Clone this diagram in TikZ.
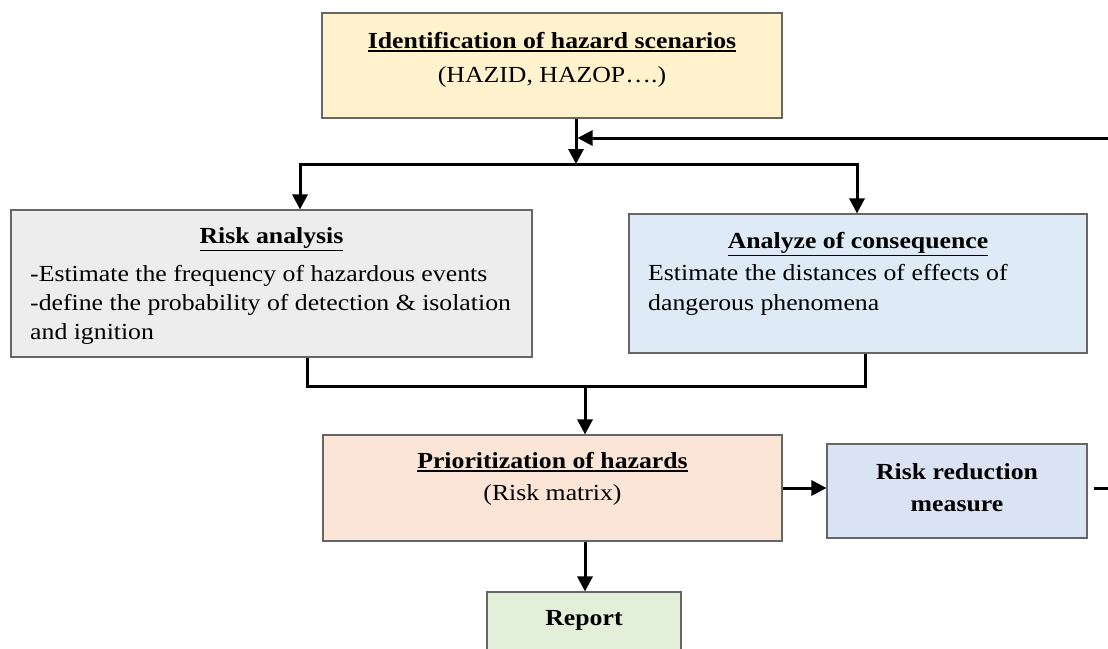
\documentclass[tikz,border=0pt]{standalone}
\usepackage{fontspec}
\setmainfont[FakeStretch=1.12]{Liberation Serif}
\usetikzlibrary{arrows.meta}
\definecolor{cTop}{HTML}{FFF2CC}
\definecolor{cLeft}{HTML}{EDEDED}
\definecolor{cRight}{HTML}{DEEBF7}
\definecolor{cPrio}{HTML}{FBE5D6}
\definecolor{cRR}{HTML}{DAE3F3}
\definecolor{cRep}{HTML}{E2F0D9}
\definecolor{boxgray}{HTML}{666666}
\newcommand{\myul}[1]{\leavevmode\vtop{\hbox{#1}\kern1.8pt\hrule height 1.5pt}}
\begin{document}
\begin{tikzpicture}[x=1pt,y=-1pt,
  box/.style={draw=boxgray, line width=1.1pt, inner sep=0pt},
  txt/.style={inner sep=0pt, anchor=base, font=\fontsize{23}{29}\selectfont},
  txtl/.style={txt, anchor=base west},
  conn/.style={line width=3pt, -{Triangle[width=15pt,length=15pt]}},
  plain/.style={line width=3pt}]
\clip (0,0) rectangle (1108,648);
\fill[white] (0,0) rectangle (1108,648);
% boxes
\node[box, fill=cTop, minimum width=460pt, minimum height=105pt] (top) at (552,65.5) {};
\node[box, fill=cLeft, minimum width=521pt, minimum height=147pt] (L) at (271.5,283.5) {};
\node[box, fill=cRight, minimum width=458pt, minimum height=139pt] (R) at (858,283.5) {};
\node[box, fill=cPrio, minimum width=459pt, minimum height=106pt] (P) at (552.5,488) {};
\node[box, fill=cRR, minimum width=260pt, minimum height=94pt] (RR) at (957,491) {};
\node[box, fill=cRep, minimum width=194pt, minimum height=88pt] (Rep) at (584,636) {};
% texts
\node[txt] (t1) at (552,48) {\bfseries\myul{Identification of hazard scenarios}};
\node[txt] (t2) at (552,82) {(HAZID, HAZOP….)};
\node[txt] (l1) at (271.5,243) {\bfseries\myul{Risk analysis}};
\node[txtl] (l2) at (30,281) {-Estimate the frequency of hazardous events};
\node[txtl] (l3) at (30,310) {-define the probability of detection \& isolation};
\node[txtl] (l4) at (30,339) {and ignition};
\node[txt] (r1) at (858,248) {\bfseries\myul{Analyze of consequence}};
\node[txtl] (r2) at (648,280) {Estimate the distances of effects of};
\node[txtl] (r3) at (648,310) {dangerous phenomena};
\node[txt] (p1) at (552.5,468) {\bfseries\myul{Prioritization of hazards}};
\node[txt] (p2) at (552.5,500) {(Risk matrix)};
\node[txt] (m1) at (957,479) {\bfseries Risk reduction};
\node[txt] (m2) at (957,511) {\bfseries measure};
\node[txt] (rp) at (584,625) {\bfseries Report};
% connector coordinates
\coordinate (J) at (576,164);
\coordinate (BL) at (300,164);
\coordinate (BR) at (857,164);
\coordinate (ML) at (307,386);
\coordinate (MR) at (865,386);
\coordinate (M) at (585,386);
\coordinate (FB1) at (1130,488);
\coordinate (FB2) at (1130,138);
% connectors
\draw[conn] (top.south -| J) -- (J);
\draw[conn] (BR) -- (BL) -- (BL |- L.north);
\draw[conn] (BL) -- (BR) -- (BR |- R.north);
\draw[plain] (ML |- L.south) -- (ML) -- (MR) -- (MR |- R.south);
\draw[conn] (M) -- (M |- P.north);
\draw[conn] (P.east) -- (P.east -| RR.west);
\draw[conn] (M |- P.south) -- (M |- Rep.north);
\draw[conn, shorten <=6pt, shorten >=1.5pt] (P.east -| RR.east) -- (FB1) -- (FB2) -- (J |- FB2);
\end{tikzpicture}
\end{document}
